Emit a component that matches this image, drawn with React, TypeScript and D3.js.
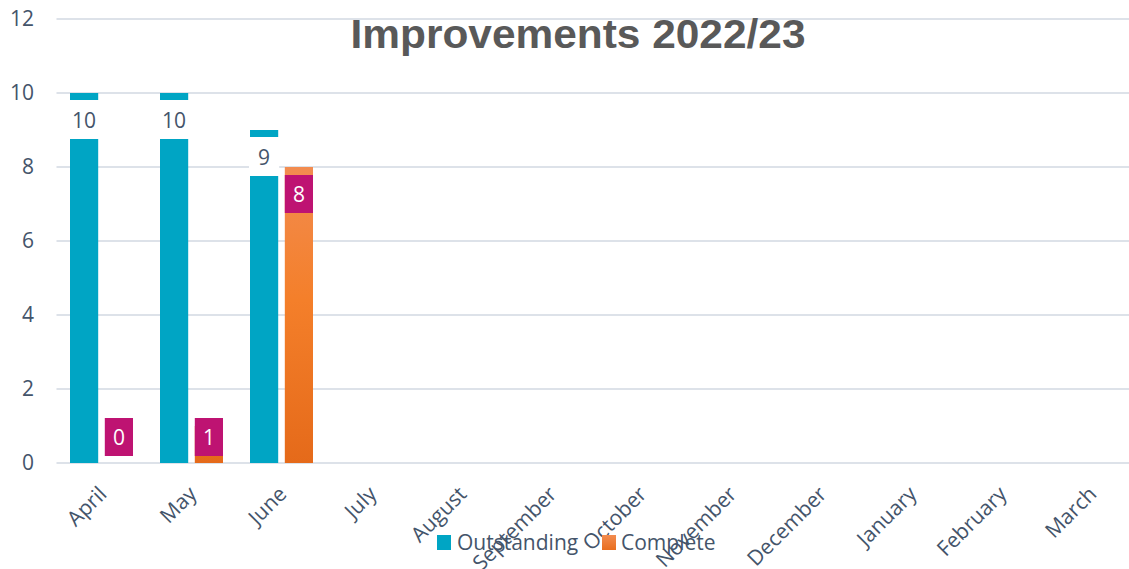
import { useEffect, useRef } from "react"
import * as d3 from "d3"

const months = ["April", "May", "June", "July", "August", "September", "October", "November", "December", "January", "February", "March"]
const outstanding: (number | null)[] = [10, 10, 9, null, null, null, null, null, null, null, null, null]
const complete: (number | null)[] = [0, 1, 8, null, null, null, null, null, null, null, null, null]
const yTicks = [0, 2, 4, 6, 8, 10, 12]
const seriesNames = ["Outstanding", "Complete"]

const TEAL = "#00A5C4"
const MAGENTA = "#BE1372"
const TEXT = "#44546A"
const GRID = "#DDE2E9"

export default function App() {
  const svgRef = useRef<SVGSVGElement>(null)

  useEffect(() => {
    if (!svgRef.current) return
    const width = 1129
    const height = 569

    const svg = d3.select(svgRef.current)
    svg.selectAll("*").remove()
    svg.attr("width", width).attr("height", height)

    const left = 56.5
    const right = 1136.5

    const x = d3.scaleBand<string>().domain(months).range([left, right]).paddingInner(0.3).paddingOuter(0.15)
    const xs = d3.scaleBand<string>().domain(seriesNames).range([0, x.bandwidth()]).paddingInner(0.19)
    const y = d3.scaleLinear().domain([0, 12]).range([463, 19])

    // 漸層 (橘色)
    const defs = svg.append("defs")
    const grad = defs.append("linearGradient")
      .attr("id", "orange-grad")
      .attr("gradientUnits", "userSpaceOnUse")
      .attr("x1", 0).attr("y1", y(8))
      .attr("x2", 0).attr("y2", y(0))
    grad.append("stop").attr("offset", "0%").attr("stop-color", "#F28C50")
    grad.append("stop").attr("offset", "45%").attr("stop-color", "#F47F2A")
    grad.append("stop").attr("offset", "100%").attr("stop-color", "#E56A1A")

    const legGrad = defs.append("linearGradient")
      .attr("id", "orange-leg")
      .attr("x1", "0%").attr("y1", "0%")
      .attr("x2", "0%").attr("y2", "100%")
    legGrad.append("stop").attr("offset", "0%").attr("stop-color", "#F28C50")
    legGrad.append("stop").attr("offset", "100%").attr("stop-color", "#E96E1E")

    // 格線
    svg.append("g")
      .selectAll("line")
      .data(yTicks)
      .enter().append("line")
      .attr("x1", left).attr("x2", right)
      .attr("y1", d => y(d)).attr("y2", d => y(d))
      .attr("stroke", GRID)
      .attr("stroke-width", 2)

    // Y 軸文字
    svg.append("g")
      .selectAll("text")
      .data(yTicks)
      .enter().append("text")
      .attr("x", 34)
      .attr("y", d => y(d))
      .attr("dy", "0.35em")
      .attr("text-anchor", "end")
      .attr("font-family", "Open Sans")
      .attr("font-size", 21)
      .attr("fill", TEXT)
      .text(d => d)

    // 標題
    svg.append("text")
      .attr("x", 578)
      .attr("y", 48)
      .attr("text-anchor", "middle")
      .attr("font-family", "Liberation Sans, Arial")
      .attr("font-weight", "bold")
      .attr("font-size", 40)
      .attr("fill", "#595959")
      .attr("textLength", 455)
      .attr("lengthAdjust", "spacingAndGlyphs")
      .text("Improvements 2022/23")

    const bw = xs.bandwidth()

    // Outstanding
    const outData = months.map((m, i) => ({ m, v: outstanding[i] })).filter(d => d.v !== null) as { m: string, v: number }[]
    const outG = svg.append("g")
    outG.selectAll("rect.bar")
      .data(outData)
      .enter().append("rect")
      .attr("class", "bar")
      .attr("x", d => (x(d.m) as number) + (xs("Outstanding") as number))
      .attr("y", d => y(d.v))
      .attr("width", bw)
      .attr("height", d => y(0) - y(d.v))
      .attr("fill", TEAL)
    outG.selectAll("rect.lbl")
      .data(outData)
      .enter().append("rect")
      .attr("class", "lbl")
      .attr("x", d => (x(d.m) as number) + (xs("Outstanding") as number) - 1)
      .attr("y", d => y(d.v) + 7)
      .attr("width", bw + 2)
      .attr("height", 39)
      .attr("fill", "white")
    outG.selectAll("text")
      .data(outData)
      .enter().append("text")
      .attr("x", d => (x(d.m) as number) + (xs("Outstanding") as number) + bw / 2)
      .attr("y", d => y(d.v) + 28)
      .attr("dy", "0.35em")
      .attr("text-anchor", "middle")
      .attr("font-family", "Open Sans")
      .attr("font-size", 21)
      .attr("fill", TEXT)
      .text(d => d.v)

    // Complete
    const compData = months.map((m, i) => ({ m, v: complete[i] })).filter(d => d.v !== null) as { m: string, v: number }[]
    const compG = svg.append("g")
    compG.selectAll("rect.bar")
      .data(compData)
      .enter().append("rect")
      .attr("class", "bar")
      .attr("x", d => (x(d.m) as number) + (xs("Complete") as number))
      .attr("y", d => y(d.v))
      .attr("width", bw)
      .attr("height", d => y(0) - y(d.v))
      .attr("fill", "url(#orange-grad)")
    const boxY = (v: number) => Math.min(y(v) + 8, y(0) - 45)
    compG.selectAll("rect.lbl")
      .data(compData)
      .enter().append("rect")
      .attr("class", "lbl")
      .attr("x", d => (x(d.m) as number) + (xs("Complete") as number))
      .attr("y", d => boxY(d.v))
      .attr("width", bw)
      .attr("height", 38)
      .attr("fill", MAGENTA)
    compG.selectAll("text")
      .data(compData)
      .enter().append("text")
      .attr("x", d => (x(d.m) as number) + (xs("Complete") as number) + bw / 2)
      .attr("y", d => boxY(d.v) + 20)
      .attr("dy", "0.35em")
      .attr("text-anchor", "middle")
      .attr("font-family", "Open Sans")
      .attr("font-size", 21)
      .attr("fill", "white")
      .text(d => d.v)

    // X 軸文字 (旋轉)
    svg.append("g")
      .selectAll("text")
      .data(months)
      .enter().append("text")
      .attr("transform", d => `translate(${(x(d) as number) + x.bandwidth() / 2 - 4},${485}) rotate(-45)`)
      .attr("text-anchor", "end")
      .attr("dy", "0.7em")
      .attr("font-family", "Open Sans")
      .attr("font-size", 21)
      .attr("fill", TEXT)
      .text(d => d)

    // 圖例
    const legend = svg.append("g")
    legend.append("rect").attr("x", 437).attr("y", 535).attr("width", 14).attr("height", 15).attr("fill", TEAL)
    legend.append("text").attr("x", 457).attr("y", 550)
      .attr("font-family", "Open Sans").attr("font-size", 21).attr("fill", TEXT).text(seriesNames[0])
    legend.append("rect").attr("x", 602).attr("y", 535).attr("width", 14).attr("height", 15).attr("fill", "url(#orange-leg)")
    legend.append("text").attr("x", 621).attr("y", 550)
      .attr("font-family", "Open Sans").attr("font-size", 21).attr("fill", TEXT).text(seriesNames[1])
  }, [])

  return (
    <div style={{ position: "absolute", left: 0, top: 0, width: 1129, height: 569, overflow: "hidden", background: "white" }}>
      <svg ref={svgRef}></svg>
    </div>
  )
}
